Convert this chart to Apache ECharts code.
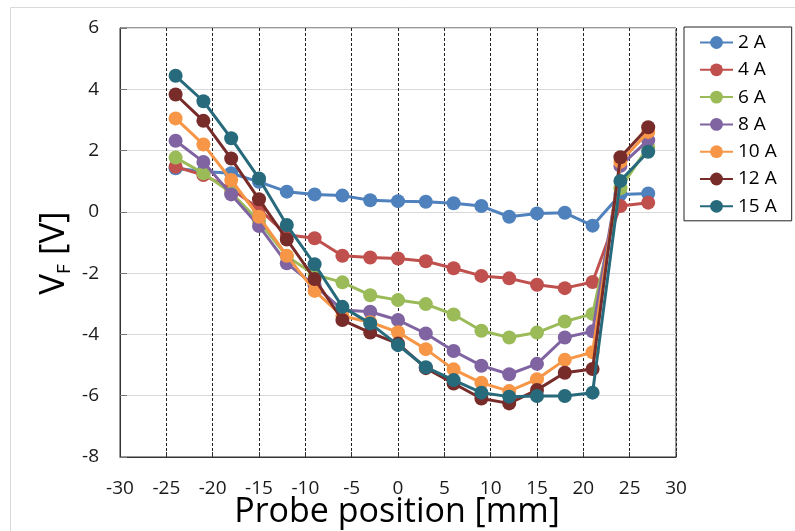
<!DOCTYPE html>
<html>
<head>
<meta charset="utf-8">
<script src="https://cdn.jsdelivr.net/npm/echarts@6/dist/echarts.min.js"></script>
<style>
html,body{margin:0;padding:0;background:#fff;}
#chart{width:795px;height:531px;}
</style>
</head>
<body>
<div id="chart"></div>
<script>
// Probe positions [mm]
var positions = [-24, -21, -18, -15, -12, -9, -6, -3, 0, 3, 6, 9, 12, 15, 18, 21, 24, 27];
// Floating potential V_F [V] per discharge current
var vf2A  = [1.42, 1.32, 1.26, 0.98, 0.66, 0.57, 0.53, 0.38, 0.35, 0.33, 0.28, 0.19, -0.16, -0.05, -0.03, -0.45, 0.57, 0.60];
var vf4A  = [1.47, 1.20, 0.75, 0.10, -0.75, -0.86, -1.43, -1.49, -1.52, -1.61, -1.84, -2.09, -2.17, -2.38, -2.49, -2.29, 0.19, 0.30];
var vf6A  = [1.77, 1.26, 0.62, -0.30, -1.45, -2.05, -2.30, -2.72, -2.88, -3.01, -3.35, -3.88, -4.10, -3.94, -3.58, -3.33, 0.77, 2.12];
var vf8A  = [2.32, 1.63, 0.57, -0.46, -1.68, -2.40, -3.20, -3.26, -3.53, -3.97, -4.54, -5.02, -5.30, -4.96, -4.10, -3.90, 1.50, 2.34];
var vf10A = [3.05, 2.20, 1.04, -0.16, -1.43, -2.58, -3.40, -3.60, -3.93, -4.48, -5.14, -5.58, -5.85, -5.46, -4.83, -4.58, 1.63, 2.61];
var vf12A = [3.83, 2.97, 1.74, 0.41, -0.90, -2.19, -3.53, -3.94, -4.30, -5.10, -5.60, -6.09, -6.25, -5.81, -5.25, -5.13, 1.78, 2.76];
var vf15A = [4.44, 3.61, 2.40, 1.09, -0.43, -1.71, -3.10, -3.64, -4.35, -5.07, -5.49, -5.90, -6.03, -6.01, -6.01, -5.90, 1.01, 1.96];

var seriesNames = ['2 A', '4 A', '6 A', '8 A', '10 A', '12 A', '15 A'];
var seriesValues = [vf2A, vf4A, vf6A, vf8A, vf10A, vf12A, vf15A];
var seriesColors = ['#4F81BD', '#C0504D', '#9BBB59', '#8064A2', '#F79646', '#772C2A', '#276A7C'];

var xTitle = 'Probe position [mm]';

var FONT = 'Open Sans';

function pairs(vals) {
  return positions.map(function (x, i) { return [x, vals[i]]; });
}

var series = seriesNames.map(function (name, i) {
  return {
    name: name,
    type: 'line',
    data: pairs(seriesValues[i]),
    symbol: 'circle',
    symbolSize: 14,
    showSymbol: true,
    lineStyle: { width: 3, color: seriesColors[i] },
    itemStyle: { color: seriesColors[i] },
    emphasis: { disabled: true },
    z: 2 + i
  };
});

var chart = echarts.init(document.getElementById('chart'), null, { renderer: 'canvas' });
chart.setOption({
  animation: false,
  backgroundColor: '#ffffff',
  textStyle: { fontFamily: FONT },
  graphic: [
    {
      type: 'rect',
      shape: { x: 10.5, y: 7.5, width: 800, height: 600 },
      style: { fill: 'none', stroke: '#d9d9d9', lineWidth: 1 },
      silent: true, z: -10
    },
    {
      type: 'text',
      x: 54, y: 253,
      rotation: Math.PI / 2,
      style: {
        text: '{v|V}{s|F}{v| [V]}',
        align: 'center',
        verticalAlign: 'middle',
        fill: '#000',
        rich: {
          v: { fontSize: 35, fontFamily: FONT, lineHeight: 40, fill: '#000' },
          s: { fontSize: 19, fontFamily: FONT, lineHeight: 24, verticalAlign: 'bottom', fill: '#000' }
        }
      },
      silent: true
    },
    {
      type: 'text',
      x: 397, y: 512,
      style: {
        text: xTitle,
        align: 'center',
        verticalAlign: 'middle',
        fontSize: 34,
        fontFamily: FONT,
        fill: '#000'
      },
      silent: true
    }
  ],
  grid: {
    left: 120, right: 119, top: 28, bottom: 74,
    outerBoundsMode: 'none',
    containLabel: false,
    show: true, borderColor: '#333', borderWidth: 1
  },
  legend: {
    orient: 'vertical',
    left: 684, top: 27,
    padding: [6, 15, 5, 15],
    itemWidth: 33, itemHeight: 16, itemGap: 8.3,
    backgroundColor: '#fff',
    borderColor: '#222', borderWidth: 1,
    textStyle: { fontSize: 19, fontFamily: FONT, color: '#000' },
    data: seriesNames
  },
  xAxis: {
    type: 'value',
    min: -30, max: 30, interval: 5,
    axisLine: { show: true, onZero: false, lineStyle: { color: '#333' } },
    axisTick: { show: true, inside: true, length: 5, lineStyle: { color: '#333' } },
    axisLabel: { fontSize: 19, fontFamily: FONT, color: '#1a1a1a', margin: 22 },
    splitLine: { show: true, lineStyle: { color: '#222', type: [3, 2], width: 1 } }
  },
  yAxis: {
    type: 'value',
    min: -8, max: 6, interval: 2,
    axisLine: { show: true, onZero: false, lineStyle: { color: '#333' } },
    axisTick: { show: true, inside: true, length: 7, lineStyle: { color: '#777' } },
    axisLabel: { fontSize: 19, fontFamily: FONT, color: '#1a1a1a', margin: 21 },
    splitLine: { show: true, lineStyle: { color: '#d9d9d9', width: 1 } }
  },
  series: series
});
</script>
</body>
</html>
